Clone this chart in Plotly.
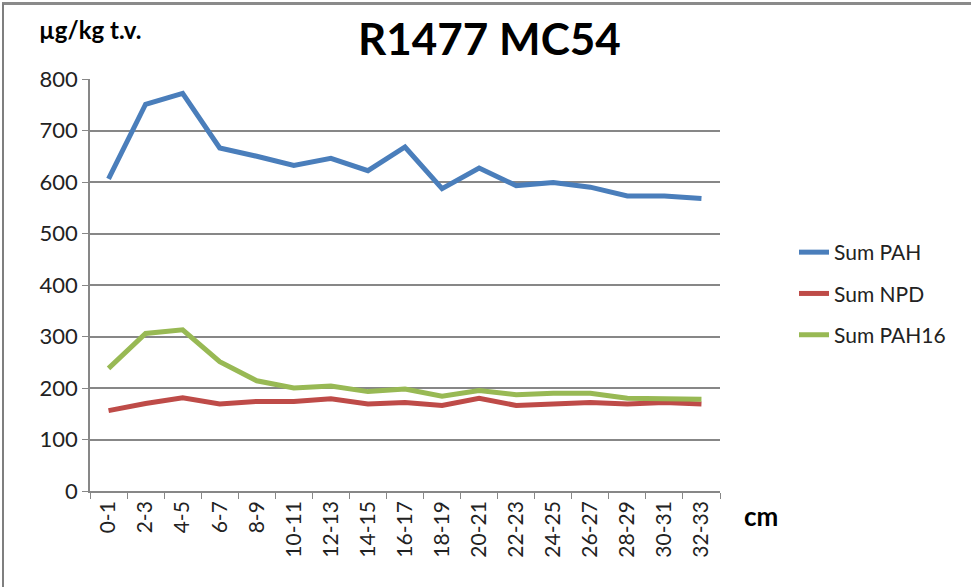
import plotly.graph_objects as go

categories = ["0-1", "2-3", "4-5", "6-7", "8-9", "10-11", "12-13", "14-15", "16-17",
              "18-19", "20-21", "22-23", "24-25", "26-27", "28-29", "30-31", "32-33"]
sum_pah = [606, 751, 772, 666, 650, 632, 646, 622, 668, 587, 627, 593, 599, 590, 573, 573, 568]
sum_npd = [156, 170, 181, 169, 174, 174, 179, 169, 172, 166, 180, 166, 169, 172, 169, 172, 169]
sum_pah16 = [238, 306, 313, 251, 214, 200, 204, 193, 198, 184, 195, 187, 190, 190, 180, 180, 178]
y_ticks = [0, 100, 200, 300, 400, 500, 600, 700, 800]

FONT = "Lato"
L, R, T, B = 90, 251, 79, 96
W, H = 971, 587
pw, ph = W - L - R, H - T - B

def px(x):
    return (x - L) / pw

def py(y):
    return (H - B - y) / ph

fig = go.Figure()
series = [("Sum PAH", sum_pah, "#4A7EBB"),
          ("Sum NPD", sum_npd, "#BE4B48"),
          ("Sum PAH16", sum_pah16, "#98B954")]
for name, vals, col in series:
    fig.add_trace(go.Scatter(x=categories, y=vals, name=name, mode="lines",
                             legendgroup=name,
                             line=dict(color=col, width=5)))

border = dict(color="#7f7f7f", width=2)
fig.update_layout(
    width=W, height=H,
    margin=dict(l=L, r=R, t=T, b=B),
    paper_bgcolor="white", plot_bgcolor="white",
    font=dict(family=FONT, size=22, color="#222"),
    showlegend=True,
    legend=dict(x=px(794), y=py(232), xanchor="left", yanchor="top",
                font=dict(family=FONT, size=21, color="#222"),
                tracegroupgap=11, bgcolor="rgba(0,0,0,0)"),
    xaxis=dict(type="category", tickangle=-90, showgrid=False,
               showline=True, linecolor="#878787", linewidth=1.5,
               ticks="outside", tickson="boundaries", ticklen=6, tickcolor="#878787",
               tickfont=dict(family=FONT, size=21, color="#222"),
               range=[-0.5, len(categories) - 0.5]),
    yaxis=dict(range=[0, 800], tickvals=y_ticks, showgrid=True, gridcolor="#878787",
               gridwidth=1.5, showline=True, linecolor="#878787", linewidth=1.5,
               ticks="outside", ticklen=6, tickcolor="#878787", zeroline=False,
               tickfont=dict(family=FONT, size=22, color="#222")),
    annotations=[
        dict(text="<b>R1477 MC54</b>", x=px(489), y=py(38), xref="paper", yref="paper",
             showarrow=False, font=dict(family=FONT, size=44, color="black"),
             xanchor="center", yanchor="middle"),
        dict(text="<b>µg/kg t.v.</b>", x=px(90), y=py(29), xref="paper", yref="paper",
             showarrow=False, font=dict(family=FONT, size=24, color="black"),
             xanchor="center", yanchor="middle"),
        dict(text="<b>cm</b>", x=px(742), y=py(516), xref="paper", yref="paper",
             showarrow=False, font=dict(family=FONT, size=26, color="black"),
             xanchor="left", yanchor="middle"),
    ],
    shapes=[
        dict(type="rect", xref="paper", yref="paper",
             x0=px(2), x1=px(971), y0=py(5), y1=py(2),
             line=dict(width=0), fillcolor="#8a8a8a", layer="above"),
        dict(type="line", xref="paper", yref="paper",
             x0=px(3), x1=px(3), y0=py(3.5), y1=py(587), line=border),
    ],
)

fig.write_html("out.html", config={"displayModeBar": False},
               post_script="document.body.style.margin='0px';")
